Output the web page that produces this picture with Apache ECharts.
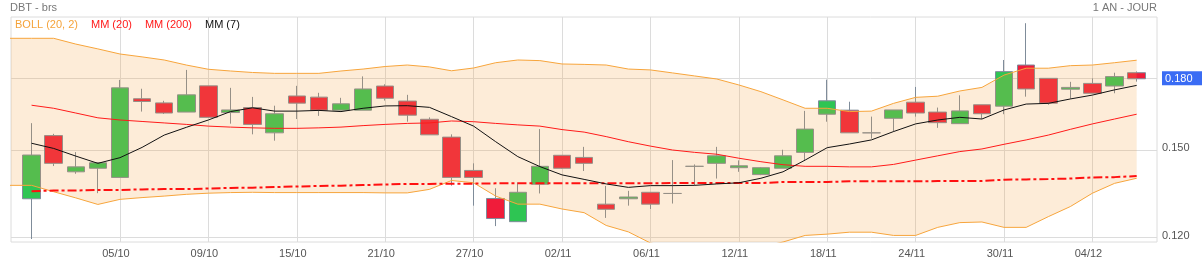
<!DOCTYPE html>
<html><head><meta charset="utf-8">
<script src="https://cdn.jsdelivr.net/npm/echarts@6/dist/echarts.min.js"></script>
<style>html,body{margin:0;padding:0;background:#fff;overflow:hidden}#c{width:1202px;height:263px}</style>
</head><body><div id="c"></div>
<script>
const dates = ['29/09','30/09','01/10','02/10','05/10','06/10','07/10','08/10','09/10','12/10','13/10','14/10','15/10','16/10','19/10','20/10','21/10','22/10','23/10','26/10','27/10','28/10','29/10','30/10','02/11','03/11','04/11','05/11','06/11','09/11','10/11','11/11','12/11','13/11','16/11','17/11','18/11','19/11','20/11','23/11','24/11','25/11','26/11','27/11','30/11','01/12','02/12','03/12','04/12','07/12','08/12'];
// [open, close, low, high]
const ohlc = [
[0.1325,0.1481,0.1196,0.1606],[0.1556,0.1450,0.1440,0.1563],[0.1419,0.1437,0.1412,0.1492],[0.1432,0.1452,0.1344,0.1455],
[0.1399,0.1757,0.1399,0.1793],[0.1709,0.1697,0.1654,0.1753],[0.1691,0.1648,0.1644,0.1700],[0.1652,0.1726,0.1652,0.1839],
[0.1766,0.1630,0.1630,0.1766],[0.1650,0.1661,0.1604,0.1757],[0.1671,0.1601,0.1561,0.1717],[0.1567,0.1645,0.1536,0.1679],
[0.1721,0.1690,0.1623,0.1766],[0.1716,0.1660,0.1636,0.1735],[0.1660,0.1687,0.1660,0.1713],[0.1660,0.1752,0.1660,0.1809],
[0.1765,0.1711,0.1701,0.1773],[0.1699,0.1639,0.1612,0.1726],[0.1622,0.1559,0.1559,0.1630],[0.1550,0.1399,0.1370,0.1561],
[0.1424,0.1399,0.1302,0.1450],[0.1326,0.1260,0.1236,0.1361],[0.1250,0.1347,0.1250,0.1381],[0.1375,0.1439,0.1343,0.1582],
[0.1480,0.1432,0.1430,0.1480],[0.1472,0.1450,0.1422,0.1512],[0.1307,0.1290,0.1262,0.1369],[0.1325,0.1331,0.1302,0.1352],
[0.1347,0.1307,0.1291,0.1347],[0.1343,0.1343,0.1309,0.1462],[0.1439,0.1439,0.1370,0.1446],[0.1450,0.1478,0.1395,0.1512],
[0.1434,0.1441,0.1419,0.1461],[0.1409,0.1434,0.1407,0.1436],[0.1432,0.1478,0.1432,0.1501],[0.1491,0.1582,0.1462,0.1657],
[0.1643,0.1700,0.1612,0.1794],[0.1660,0.1567,0.1567,0.1696],[0.1567,0.1567,0.1544,0.1633],[0.1626,0.1661,0.1571,0.1661],
[0.1694,0.1648,0.1633,0.1761],[0.1652,0.1608,0.1587,0.1671],[0.1604,0.1657,0.1604,0.1724],[0.1683,0.1645,0.1624,0.1683],
[0.1677,0.1831,0.1643,0.1886],[0.1862,0.1752,0.1718,0.2071],[0.1800,0.1690,0.1683,0.1800],[0.1751,0.1759,0.1709,0.1784],
[0.1777,0.1733,0.1733,0.1800],[0.1765,0.1808,0.1733,0.1826],[0.1826,0.1798,0.1785,0.1832]
];
// Bollinger bands: first value is the day before 29/09
const bollUpper = [0.1993,0.1993,0.1993,0.1964,0.1940,0.1915,0.1901,0.1886,0.1862,0.1842,0.1834,0.1827,0.1823,0.1823,0.1823,0.1834,0.1843,0.1855,0.1862,0.1853,0.1835,0.1848,0.1873,0.1886,0.1883,0.1867,0.1865,0.1862,0.1843,0.1839,0.1825,0.1811,0.1797,0.1770,0.1740,0.1704,0.1668,0.1668,0.1654,0.1656,0.1689,0.1715,0.1720,0.1743,0.1759,0.1815,0.1847,0.1847,0.1859,0.1862,0.1873,0.1885];
const bollLower = [0.1371,0.1371,0.1349,0.1328,0.1306,0.1323,0.1329,0.1334,0.1340,0.1344,0.1346,0.1347,0.1346,0.1346,0.1346,0.1346,0.1346,0.1345,0.1345,0.1357,0.1388,0.1380,0.1334,0.1307,0.1307,0.1291,0.1279,0.1238,0.1218,0.1184,0.1172,0.1163,0.1163,0.1163,0.1172,0.1187,0.1207,0.1211,0.1217,0.1217,0.1207,0.1207,0.1232,0.1247,0.1249,0.1232,0.1232,0.1266,0.1299,0.1344,0.1378,0.1396];
const mm20 = [0.1681,0.1668,0.1648,0.1628,0.1619,0.1613,0.1607,0.1601,0.1594,0.1590,0.1587,0.1585,0.1585,0.1587,0.1590,0.1596,0.1601,0.1605,0.1607,0.1615,0.1612,0.1605,0.1599,0.1594,0.1580,0.1570,0.1552,0.1532,0.1515,0.1500,0.1491,0.1484,0.1469,0.1456,0.1445,0.1439,0.1439,0.1437,0.1437,0.1446,0.1462,0.1478,0.1494,0.1504,0.1522,0.1539,0.1558,0.1581,0.1603,0.1623,0.1643];
const mm200 = [0.1351,0.1353,0.1353,0.1355,0.1355,0.1357,0.1358,0.1358,0.1360,0.1362,0.1363,0.1365,0.1367,0.1369,0.1370,0.1372,0.1374,0.1376,0.1376,0.1377,0.1377,0.1378,0.1378,0.1378,0.1378,0.1378,0.1378,0.1378,0.1378,0.1379,0.1379,0.1379,0.1379,0.1379,0.1383,0.1383,0.1383,0.1385,0.1385,0.1385,0.1385,0.1386,0.1386,0.1386,0.1391,0.1392,0.1393,0.1395,0.1399,0.1400,0.1404];
const mm7 = [0.1526,0.1506,0.1477,0.1450,0.1471,0.1510,0.1558,0.1589,0.1619,0.1654,0.1670,0.1656,0.1656,0.1659,0.1654,0.1668,0.1678,0.1679,0.1672,0.1633,0.1594,0.1532,0.1475,0.1438,0.1408,0.1392,0.1376,0.1364,0.1370,0.1370,0.1371,0.1376,0.1380,0.1396,0.1419,0.1462,0.1509,0.1523,0.1539,0.1572,0.1603,0.1619,0.1630,0.1623,0.1661,0.1686,0.1689,0.1708,0.1725,0.1748,0.1768];
const xTickDates = ['05/10','09/10','15/10','21/10','27/10','02/11','06/11','12/11','18/11','24/11','30/11','04/12'];
const yTicks = [0.12, 0.15, 0.18];
const lastPrice = 0.180;

const FONT = '"Liberation Sans", Arial, sans-serif';
const xTickIdx = xTickDates.map(d => dates.indexOf(d));
const candleData = ohlc.map((d, i) => [i, d[0], d[1], d[2], d[3]]);
const bandData = bollUpper.map((v, i) => [i - 1, v, bollLower[i]]);
const toXY = arr => arr.map((v, i) => [i, v]);
const toXYprev = arr => arr.map((v, i) => [i - 1, v]);

function renderBand(params, api) {
  if (params.dataIndexInside !== 0) return null;
  const pts = [];
  for (let i = 0; i < bandData.length; i++) pts.push(api.coord([bandData[i][0], bandData[i][1]]));
  for (let i = bandData.length - 1; i >= 0; i--) pts.push(api.coord([bandData[i][0], bandData[i][2]]));
  const cs = params.coordSys;
  return {
    type: 'polygon', shape: {points: pts},
    style: {fill: 'rgba(245,160,60,0.2)'},
    clipPath: {type: 'rect', shape: {x: cs.x, y: cs.y, width: cs.width, height: cs.height}}
  };
}

const chart = echarts.init(document.getElementById('c'), null, {renderer: 'canvas'});
chart.setOption({
  animation: false,
  textStyle: {fontFamily: FONT},
  title: [
    {text: 'DBT - brs', left: 10, top: 2, padding: 0, textStyle: {fontSize: 11, fontWeight: 'normal', color: '#777', fontFamily: FONT}},
    {text: '1 AN - JOUR', right: 45, top: 2, padding: 0, textStyle: {fontSize: 11, fontWeight: 'normal', color: '#777', fontFamily: FONT}}
  ],
  legend: {
    left: 10, top: 18, padding: 0, icon: 'none', itemWidth: 0, itemHeight: 14, itemGap: 8,
    selectedMode: false,
    textStyle: {fontSize: 11, fontFamily: FONT},
    data: [
      {name: 'BOLL (20, 2)', textStyle: {color: '#f5a33a'}},
      {name: 'MM (20)', textStyle: {color: '#ff1a1a'}},
      {name: 'MM (200)', textStyle: {color: '#ff1a1a'}},
      {name: 'MM (7)', textStyle: {color: '#111'}}
    ]
  },
  grid: {left: 11, right: 45, top: 17, bottom: 21, show: true, borderColor: '#dcdcdc', borderWidth: 1, containLabel: false, outerBoundsMode: 'none'},
  xAxis: {
    type: 'value', min: -0.93, max: 50.92,
    axisLine: {show: false},
    axisTick: {show: false, customValues: xTickIdx},
    axisLabel: {customValues: xTickIdx, formatter: v => dates[Math.round(v)] || '', color: '#555', fontSize: 11, margin: 6, padding: [0, 8, 0, 0], fontFamily: FONT},
    splitLine: {show: true, lineStyle: {color: '#dcdcdc', width: 1}}
  },
  yAxis: {
    type: 'log', logBase: 10, min: 0.1187, max: 0.2104, position: 'right',
    axisLine: {show: false},
    axisTick: {show: false, customValues: yTicks},
    axisLabel: {
      customValues: yTicks, margin: 5, fontSize: 11, color: '#555', fontFamily: FONT,
      formatter: v => Math.abs(v - lastPrice) < 1e-6 ? '{p|' + v.toFixed(3) + '}' : '{n|' + v.toFixed(3) + '}',
      rich: {
        n: {color: '#555', fontSize: 11, fontFamily: FONT, padding: [0, 0, 4, 0]},
        p: {color: '#fff', fontSize: 11, fontFamily: FONT, backgroundColor: '#3a6cf4', padding: [2, 14, 1, 3], lineHeight: 12}
      }
    },
    splitLine: {show: true, lineStyle: {color: '#dcdcdc', width: 1}}
  },
  series: [
    {
      type: 'candlestick', name: 'DBT', data: candleData, z: 2,
      encode: {x: 0, y: [1, 2, 3, 4]},
      barWidth: 18,
      itemStyle: {color: '#2ec553', color0: '#f01c3a', borderColor: '#7f8c9a', borderColor0: '#7f8c9a', borderColorDoji: '#7f8c9a', borderWidth: 1}
    },
    {
      type: 'custom', name: 'BOLL (20, 2)', data: bandData, encode: {x: 0, y: [1, 2]}, z: 3,
      renderItem: renderBand, clip: true, silent: true
    },
    {type: 'line', name: 'BOLL (20, 2)', z: 4, data: toXYprev(bollUpper), symbol: 'none', lineStyle: {color: '#f7a53c', width: 1}},
    {type: 'line', name: 'BOLL (20, 2)', z: 4, data: toXYprev(bollLower), symbol: 'none', lineStyle: {color: '#f7a53c', width: 1}},
    {type: 'line', name: 'MM (20)', z: 4, data: toXY(mm20), symbol: 'none', lineStyle: {color: '#ff1a1a', width: 1}},
    {type: 'line', name: 'MM (200)', z: 4, data: toXY(mm200), symbol: 'none', lineStyle: {color: '#ff1010', width: 2, type: [9, 3, 3, 3]}},
    {type: 'line', name: 'MM (7)', z: 4, data: toXY(mm7), symbol: 'none', lineStyle: {color: '#111', width: 1}}
  ]
});
</script></body></html>
